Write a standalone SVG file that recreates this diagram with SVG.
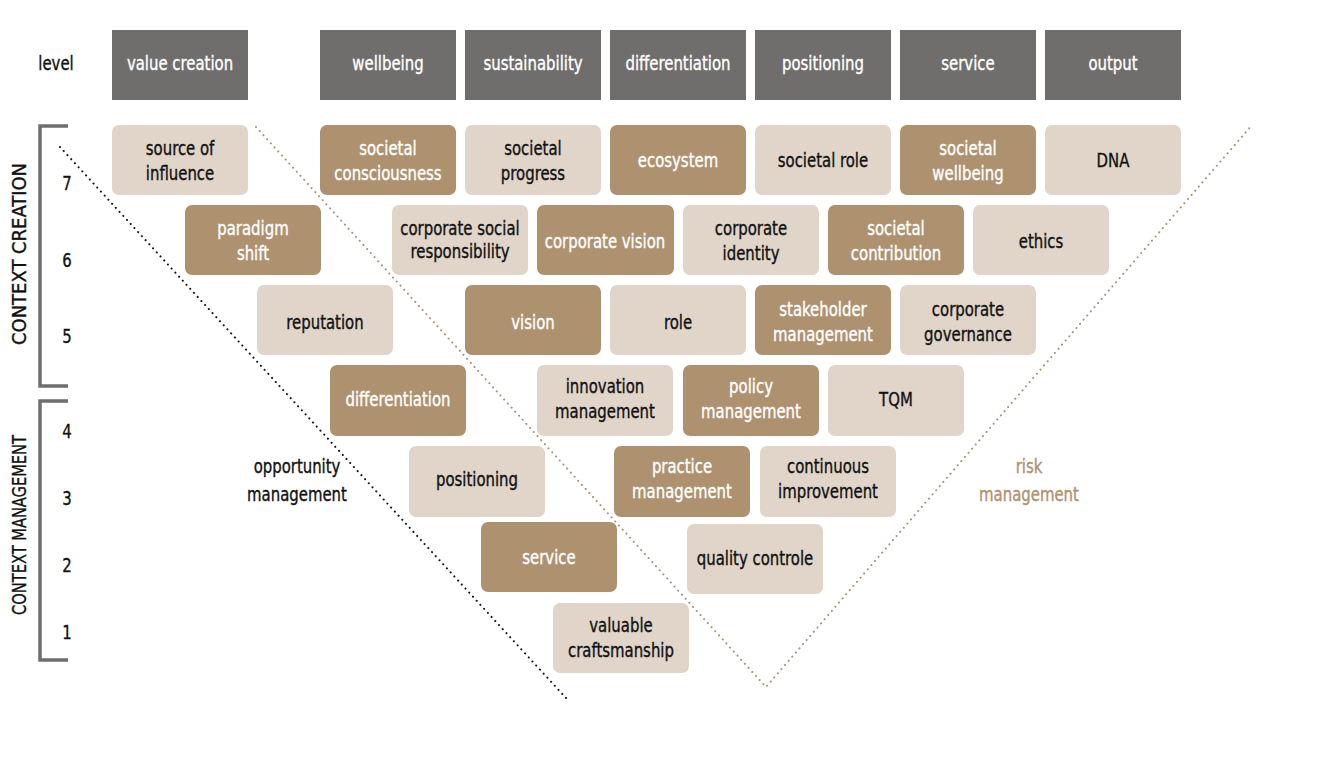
<svg xmlns="http://www.w3.org/2000/svg" width="1326" height="772" viewBox="0 0 1326 772">
<style>
text{font-family:"DejaVu Sans Condensed","DejaVu Sans","Liberation Sans",sans-serif;font-stretch:condensed;font-size:19.5px;text-anchor:middle;transform-box:fill-box;transform-origin:center;transform:scaleX(0.85);stroke-width:0.35px}
text.rot{transform:none;font-size:20px}
.hd{fill:#6f6e6c}
.dk{fill:#ae9270}
.lt{fill:#e0d5c8}
.tw{fill:#ffffff;stroke:#ffffff}
.tb{fill:#111111;stroke:#111111}
.tr{fill:#ae9270;stroke:#ae9270}
.br{fill:none;stroke:#6f6e6c;stroke-width:3.5}
.dotb{stroke:#111;stroke-width:2;stroke-dasharray:0.1 5.4;stroke-linecap:round;fill:none}
.dotr{stroke:#a89276;stroke-width:2;stroke-dasharray:0.1 5.4;stroke-linecap:round;fill:none}
</style>
<rect width="1326" height="772" fill="#fff"/>

<g id="connectors">
<line class="dotb" x1="60" y1="147" x2="566" y2="698"/>
<polyline class="dotr" points="256,127 766,687 1252,125"/>
</g>

<g id="brackets">
<polyline class="br" points="68,126 40,126 40,386 68,386"/>
<polyline class="br" points="68,401 40,401 40,660 68,660"/>
</g>

<g id="axis-labels">
<text class="tb" x="56" y="70">level</text>
<g transform="translate(26,254) rotate(-90)"><text class="tb rot" x="0" y="0" textLength="182" lengthAdjust="spacingAndGlyphs">CONTEXT CREATION</text></g>
<g transform="translate(26,525) rotate(-90)"><text class="tb rot" x="0" y="0" textLength="180" lengthAdjust="spacingAndGlyphs">CONTEXT MANAGEMENT</text></g>
<text class="tb" x="67" y="190">7</text>
<text class="tb" x="67" y="267">6</text>
<text class="tb" x="67" y="343">5</text>
<text class="tb" x="67" y="438">4</text>
<text class="tb" x="67" y="505">3</text>
<text class="tb" x="67" y="572">2</text>
<text class="tb" x="67" y="639">1</text>
<text class="tb" x="297" y="473">opportunity</text>
<text class="tb" x="297" y="501">management</text>
<text class="tr" x="1029" y="473">risk</text>
<text class="tr" x="1029" y="501">management</text>
</g>

<g id="h-value-creation"><rect class="hd" x="112" y="30" width="136" height="70"/><text class="tw" x="180" y="70">value creation</text></g>
<g id="h-wellbeing"><rect class="hd" x="320" y="30" width="136" height="70"/><text class="tw" x="388" y="70">wellbeing</text></g>
<g id="h-sustainability"><rect class="hd" x="465" y="30" width="136" height="70"/><text class="tw" x="533" y="70">sustainability</text></g>
<g id="h-differentiation"><rect class="hd" x="610" y="30" width="136" height="70"/><text class="tw" x="678" y="70">differentiation</text></g>
<g id="h-positioning"><rect class="hd" x="755" y="30" width="136" height="70"/><text class="tw" x="823" y="70">positioning</text></g>
<g id="h-service"><rect class="hd" x="900" y="30" width="136" height="70"/><text class="tw" x="968" y="70">service</text></g>
<g id="h-output"><rect class="hd" x="1045" y="30" width="136" height="70"/><text class="tw" x="1113" y="70">output</text></g>

<!-- row 7 -->
<g id="source-of-influence"><rect class="lt" x="112" y="125" width="136" height="70" rx="7"/><text class="tb" x="180" y="155">source of</text><text class="tb" x="180" y="180">influence</text></g>
<g id="societal-consciousness"><rect class="dk" x="320" y="125" width="136" height="70" rx="7"/><text class="tw" x="388" y="155">societal</text><text class="tw" x="388" y="180">consciousness</text></g>
<g id="societal-progress"><rect class="lt" x="465" y="125" width="136" height="70" rx="7"/><text class="tb" x="533" y="155">societal</text><text class="tb" x="533" y="180">progress</text></g>
<g id="ecosystem"><rect class="dk" x="610" y="125" width="136" height="70" rx="7"/><text class="tw" x="678" y="167">ecosystem</text></g>
<g id="societal-role"><rect class="lt" x="755" y="125" width="136" height="70" rx="7"/><text class="tb" x="823" y="167">societal role</text></g>
<g id="societal-wellbeing"><rect class="dk" x="900" y="125" width="136" height="70" rx="7"/><text class="tw" x="968" y="155">societal</text><text class="tw" x="968" y="180">wellbeing</text></g>
<g id="dna"><rect class="lt" x="1045" y="125" width="136" height="70" rx="7"/><text class="tb" x="1113" y="167">DNA</text></g>

<!-- row 6 -->
<g id="paradigm-shift"><rect class="dk" x="185" y="205" width="136" height="70" rx="7"/><text class="tw" x="253" y="235">paradigm</text><text class="tw" x="253" y="260">shift</text></g>
<g id="corporate-social-responsibility"><rect class="lt" x="392" y="205" width="136" height="70" rx="7"/><text class="tb" x="460" y="235">corporate social</text><text class="tb" x="460" y="258">responsibility</text></g>
<g id="corporate-vision"><rect class="dk" x="537" y="205" width="137" height="70" rx="7"/><text class="tw" x="605" y="248">corporate vision</text></g>
<g id="corporate-identity"><rect class="lt" x="683" y="205" width="136" height="70" rx="7"/><text class="tb" x="751" y="235">corporate</text><text class="tb" x="751" y="260">identity</text></g>
<g id="societal-contribution"><rect class="dk" x="828" y="205" width="136" height="70" rx="7"/><text class="tw" x="896" y="235">societal</text><text class="tw" x="896" y="260">contribution</text></g>
<g id="ethics"><rect class="lt" x="973" y="205" width="136" height="70" rx="7"/><text class="tb" x="1041" y="248">ethics</text></g>

<!-- row 5 -->
<g id="reputation"><rect class="lt" x="257" y="285" width="136" height="70" rx="7"/><text class="tb" x="325" y="329">reputation</text></g>
<g id="vision"><rect class="dk" x="465" y="285" width="136" height="70" rx="7"/><text class="tw" x="533" y="329">vision</text></g>
<g id="role"><rect class="lt" x="610" y="285" width="136" height="70" rx="7"/><text class="tb" x="678" y="329">role</text></g>
<g id="stakeholder-management"><rect class="dk" x="755" y="285" width="136" height="70" rx="7"/><text class="tw" x="823" y="316">stakeholder</text><text class="tw" x="823" y="341">management</text></g>
<g id="corporate-governance"><rect class="lt" x="900" y="285" width="136" height="70" rx="7"/><text class="tb" x="968" y="316">corporate</text><text class="tb" x="968" y="341">governance</text></g>

<!-- row 4 -->
<g id="differentiation"><rect class="dk" x="330" y="365" width="136" height="71" rx="7"/><text class="tw" x="398" y="406">differentiation</text></g>
<g id="innovation-management"><rect class="lt" x="537" y="365" width="136" height="71" rx="7"/><text class="tb" x="605" y="393">innovation</text><text class="tb" x="605" y="418">management</text></g>
<g id="policy-management"><rect class="dk" x="683" y="365" width="136" height="71" rx="7"/><text class="tw" x="751" y="393">policy</text><text class="tw" x="751" y="418">management</text></g>
<g id="tqm"><rect class="lt" x="828" y="365" width="136" height="71" rx="7"/><text class="tb" x="896" y="406">TQM</text></g>

<!-- row 3 -->
<g id="positioning"><rect class="lt" x="409" y="446" width="136" height="71" rx="7"/><text class="tb" x="477" y="486">positioning</text></g>
<g id="practice-management"><rect class="dk" x="614" y="446" width="136" height="71" rx="7"/><text class="tw" x="682" y="473">practice</text><text class="tw" x="682" y="498">management</text></g>
<g id="continuous-improvement"><rect class="lt" x="760" y="446" width="136" height="71" rx="7"/><text class="tb" x="828" y="473">continuous</text><text class="tb" x="828" y="498">improvement</text></g>

<!-- row 2 -->
<g id="service"><rect class="dk" x="481" y="522" width="136" height="70" rx="7"/><text class="tw" x="549" y="564">service</text></g>
<g id="quality-controle"><rect class="lt" x="687" y="524" width="136" height="70" rx="7"/><text class="tb" x="755" y="565">quality controle</text></g>

<!-- row 1 -->
<g id="valuable-craftsmanship"><rect class="lt" x="553" y="603" width="136" height="70" rx="7"/><text class="tb" x="621" y="632">valuable</text><text class="tb" x="621" y="657">craftsmanship</text></g>
</svg>
